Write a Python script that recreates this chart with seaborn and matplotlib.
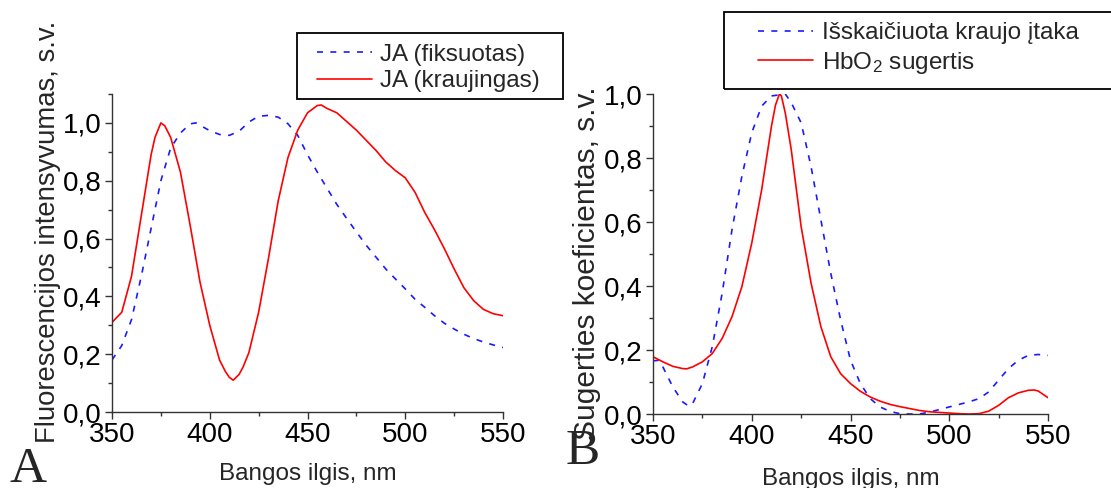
import numpy as np
import pandas as pd
import matplotlib
matplotlib.use("Agg")
import matplotlib.pyplot as plt
from matplotlib.patches import Rectangle
from matplotlib.ticker import MultipleLocator
import seaborn as sns

# ---------------- data ----------------
wl_a = [350, 355, 360, 365, 370, 372, 375, 377, 380, 385, 390, 395, 400, 405, 408, 410, 412,
        415, 417, 420, 425, 430, 435, 440, 445, 450, 455, 457, 460, 465, 470, 475, 480, 485,
        490, 495, 500, 505, 510, 515, 520, 525, 530, 535, 540, 545, 550]
ja_kraujingas = [0.31, 0.345, 0.47, 0.68, 0.89, 0.95, 1.00, 0.99, 0.95, 0.83, 0.645, 0.45,
                 0.30, 0.18, 0.14, 0.12, 0.11, 0.13, 0.155, 0.205, 0.345, 0.53, 0.73, 0.88,
                 0.975, 1.035, 1.06, 1.062, 1.05, 1.035, 1.005, 0.975, 0.94, 0.905, 0.865,
                 0.835, 0.81, 0.76, 0.69, 0.63, 0.565, 0.495, 0.43, 0.385, 0.355, 0.34, 0.333]

wl_a2 = [350, 355, 360, 365, 370, 375, 380, 385, 390, 393, 395, 400, 405, 410, 415, 420,
         425, 430, 435, 440, 445, 450, 455, 460, 465, 470, 475, 480, 485, 490, 495, 500,
         505, 510, 515, 520, 525, 530, 535, 540, 545, 550]
ja_fiksuotas = [0.18, 0.23, 0.32, 0.47, 0.635, 0.80, 0.913, 0.965, 0.997, 1.0, 0.992, 0.973,
                0.96, 0.957, 0.971, 1.003, 1.023, 1.026, 1.02, 0.997, 0.957, 0.89, 0.83,
                0.774, 0.718, 0.67, 0.623, 0.577, 0.536, 0.495, 0.46, 0.426, 0.39, 0.362,
                0.333, 0.307, 0.287, 0.269, 0.254, 0.242, 0.232, 0.223]

wl_b = [350, 355, 360, 365, 367, 370, 375, 380, 385, 390, 395, 400, 405, 410, 412, 414, 415,
        417, 420, 425, 430, 435, 440, 445, 450, 455, 460, 465, 470, 475, 480, 485, 490, 495,
        500, 505, 510, 515, 520, 525, 530, 535, 540, 543, 545, 550]
hbo2 = [0.179, 0.163, 0.149, 0.142, 0.141, 0.147, 0.163, 0.189, 0.236, 0.304, 0.398, 0.534,
        0.70, 0.90, 0.965, 1.0, 0.994, 0.94, 0.826, 0.586, 0.41, 0.273, 0.179, 0.126, 0.095,
        0.071, 0.053, 0.040, 0.030, 0.023, 0.017, 0.011, 0.007, 0.005, 0.003, 0.001, 0.0,
        0.001, 0.009, 0.027, 0.051, 0.066, 0.074, 0.075, 0.072, 0.051]

wl_b2 = [350, 353, 355, 360, 365, 368, 370, 375, 380, 385, 390, 395, 400, 405, 410, 415,
         417, 420, 425, 430, 435, 440, 445, 450, 455, 460, 465, 470, 475, 480, 485, 490,
         495, 500, 505, 510, 515, 520, 525, 530, 535, 540, 545, 550]
isskaiciuota = [0.166, 0.168, 0.147, 0.085, 0.038, 0.025, 0.032, 0.095, 0.21, 0.377, 0.576,
                0.743, 0.879, 0.962, 0.994, 0.998, 1.0, 0.973, 0.91, 0.774, 0.607, 0.44,
                0.294, 0.168, 0.095, 0.048, 0.022, 0.008, 0.001, 0.0, 0.0, 0.006, 0.014,
                0.022, 0.03, 0.038, 0.048, 0.069, 0.106, 0.142, 0.168, 0.183, 0.186, 0.183]

x_ticks = [350, 400, 450, 500, 550]
x_tick_labels = ["350", "400", "450", "500", "550"]
y_ticks = [0.0, 0.2, 0.4, 0.6, 0.8, 1.0]
y_tick_labels = ["0,0", "0,2", "0,4", "0,6", "0,8", "1,0"]

labels_a = ["JA (fiksuotas)", "JA (kraujingas)"]
labels_b = ["Išskaičiuota kraujo įtaka", "HbO$_2$ sugertis"]
xlabel = "Bangos ilgis, nm"
ylabel_a = "Fluorescencijos intensyvumas, s.v."
ylabel_b = "Sugerties koeficientas, s.v."

# ---------------- style ----------------
sns.set_style("ticks")
plt.rcParams["font.family"] = ["Liberation Sans", "DejaVu Sans"]
plt.rcParams["mathtext.default"] = "regular"

W, H = 1111, 488
fig = plt.figure(figsize=(W / 100, H / 100), dpi=100)

def fx(px):
    return px / W

def fy(py):
    return 1 - py / H

ax_a = fig.add_axes([fx(112), fy(412), fx(503) - fx(112), fy(94) - fy(412)])
ax_b = fig.add_axes([fx(653), fy(414), fx(1048) - fx(653), fy(94) - fy(414)])

blue = "#1a1aff"
red = "#ff0000"
dash = (0, (3.6, 4.4))

df_a1 = pd.DataFrame({"wl": wl_a2, "v": ja_fiksuotas})
df_a2 = pd.DataFrame({"wl": wl_a, "v": ja_kraujingas})
df_b1 = pd.DataFrame({"wl": wl_b2, "v": isskaiciuota})
df_b2 = pd.DataFrame({"wl": wl_b, "v": hbo2})

sns.lineplot(data=df_a1, x="wl", y="v", ax=ax_a, color=blue, lw=1.2, linestyle=dash)
sns.lineplot(data=df_a2, x="wl", y="v", ax=ax_a, color=red, lw=1.2)
sns.lineplot(data=df_b1, x="wl", y="v", ax=ax_b, color=blue, lw=1.2, linestyle=dash)
sns.lineplot(data=df_b2, x="wl", y="v", ax=ax_b, color=red, lw=1.2)

for ax, ytop, ylab, yfs in [(ax_a, 1.1, ylabel_a, 19.8), (ax_b, 1.0, ylabel_b, 21.5)]:
    ax.set_xlim(350, 550)
    ax.set_ylim(0, ytop)
    ax.set_xticks(x_ticks)
    ax.set_xticklabels(x_tick_labels)
    ax.set_yticks(y_ticks)
    ax.set_yticklabels(y_tick_labels)
    ax.xaxis.set_minor_locator(MultipleLocator(25))
    ax.yaxis.set_minor_locator(MultipleLocator(0.1))
    ax.tick_params(which="major", direction="out", length=5, width=1.0,
                   labelsize=20, pad=2.5, color="#333333", labelcolor="black")
    ax.tick_params(which="minor", direction="out", length=3, width=1.0, color="#333333")
    for s in ["top", "right"]:
        ax.spines[s].set_visible(False)
    for s in ["left", "bottom"]:
        ax.spines[s].set_linewidth(1.0)
        ax.spines[s].set_color("#333333")
    ax.set_xlabel(xlabel, fontsize=17.5)
    ax.set_ylabel(ylab, fontsize=yfs)
    ax.set_facecolor("none")

ax_a.xaxis.set_label_coords(0.5, -0.16)
ax_b.xaxis.set_label_coords(0.5, -0.17)
ax_a.yaxis.set_label_coords(-0.13, 0.566)
ax_b.yaxis.set_label_coords(-0.131, 0.47)

# legends (frame drawn as rectangle so its box matches)
h_a = ax_a.get_lines()
leg_a = ax_a.legend(h_a, labels_a, loc="center left",
                    bbox_to_anchor=(fx(317), fy(68)), bbox_transform=fig.transFigure,
                    frameon=False, fontsize=17.5, borderpad=0, borderaxespad=0,
                    handlelength=2.26, handletextpad=0.33, labelspacing=0.2)
h_b = ax_b.get_lines()
leg_b = ax_b.legend(h_b, labels_b, loc="center left",
                    bbox_to_anchor=(fx(758), fy(49)), bbox_transform=fig.transFigure,
                    frameon=False, fontsize=17.5, borderpad=0, borderaxespad=0,
                    handlelength=2.26, handletextpad=0.37, labelspacing=0.22)

fig.add_artist(Rectangle((fx(297), fy(99)), fx(563) - fx(297), fy(33) - fy(99),
                         transform=fig.transFigure, fill=False, lw=1.3,
                         edgecolor="black", clip_on=False))
fig.add_artist(Rectangle((fx(724), fy(89)), fx(1130) - fx(724), fy(12) - fy(89),
                         transform=fig.transFigure, fill=False, lw=1.3,
                         edgecolor="black", clip_on=False))

fig.text(fx(9), fy(482), "A", family="Liberation Serif", fontsize=37, ha="left", va="baseline")
fig.text(fx(566), fy(464), "B", family="Liberation Serif", fontsize=37, ha="left", va="baseline")

fig.savefig("out.png", dpi=100, facecolor="white")
